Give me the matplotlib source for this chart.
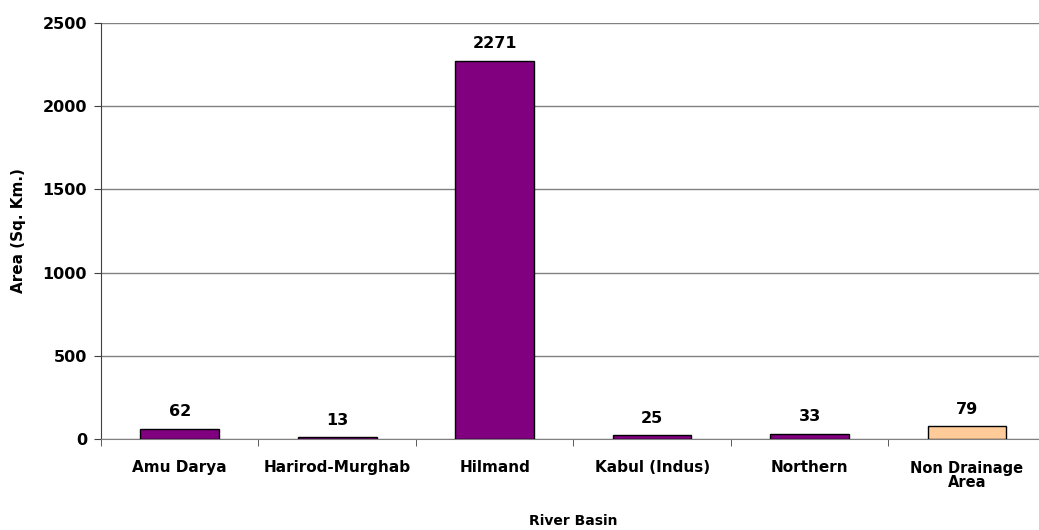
import numpy as np
import matplotlib.pyplot as plt

# Datos
basins = ['Amu Darya', 'Harirod-Murghab', 'Hilmand', 'Kabul (Indus)', 'Northern', 'Non Drainage\nArea']
area = [62, 13, 2271, 25, 33, 79]
bar_colors = ['#800080', '#800080', '#800080', '#800080', '#800080', '#FFCC99']
y_ticks = [0, 500, 1000, 1500, 2000, 2500]

plt.rcParams['font.family'] = 'DejaVu Sans'
plt.rcParams['font.weight'] = 'bold'

fig = plt.figure(figsize=(10.39, 5.30), dpi=100)
ax = fig.add_axes([101/1039, 1 - 439.4/530, (1045.7 - 101)/1039, (439.4 - 22.7)/530])

x = np.arange(len(basins))
bars = ax.bar(x, area, width=0.5, color=bar_colors, edgecolor='black', linewidth=1, zorder=3)

for xi, v in zip(x, area):
    ax.annotate(str(v), (xi, v), xytext=(0, 7), textcoords='offset points',
                ha='center', va='bottom', fontsize=11.5, fontweight='bold')

ax.set_xlim(-0.5, len(basins) - 0.5)
ax.set_ylim(0, 2500)
ax.set_yticks(y_ticks)
ax.set_yticklabels([str(t) for t in y_ticks], fontsize=11.5, fontweight='bold')
ax.yaxis.grid(True, color='#808080', linewidth=1, zorder=0)

# Etiquetas del eje x entre marcas
ax.set_xticks(x)
ax.set_xticklabels([b if '\n' not in b else '' for b in basins], fontsize=11, fontweight='bold')
ax.tick_params(axis='x', length=0, pad=15)
ax.set_xticks(np.arange(len(basins)) - 0.5, minor=True)
ax.tick_params(axis='x', which='minor', length=5, color='#404040')
ax.text(5, -0.087, 'Non Drainage\nArea', transform=ax.get_xaxis_transform(),
        ha='center', va='center', fontsize=10.5, fontweight='bold', linespacing=0.9)

ax.tick_params(axis='y', length=5, color='#404040', pad=5)
ax.spines['top'].set_visible(False)
ax.spines['right'].set_visible(False)
ax.spines['left'].set_color('#404040')
ax.spines['bottom'].set_color('#808080')

ax.set_xlabel('River Basin', fontsize=10, fontweight='bold', labelpad=28)
ax.set_ylabel('Area (Sq. Km.)', fontsize=11, fontweight='bold', labelpad=12)

fig.savefig('out.png', dpi=100)
